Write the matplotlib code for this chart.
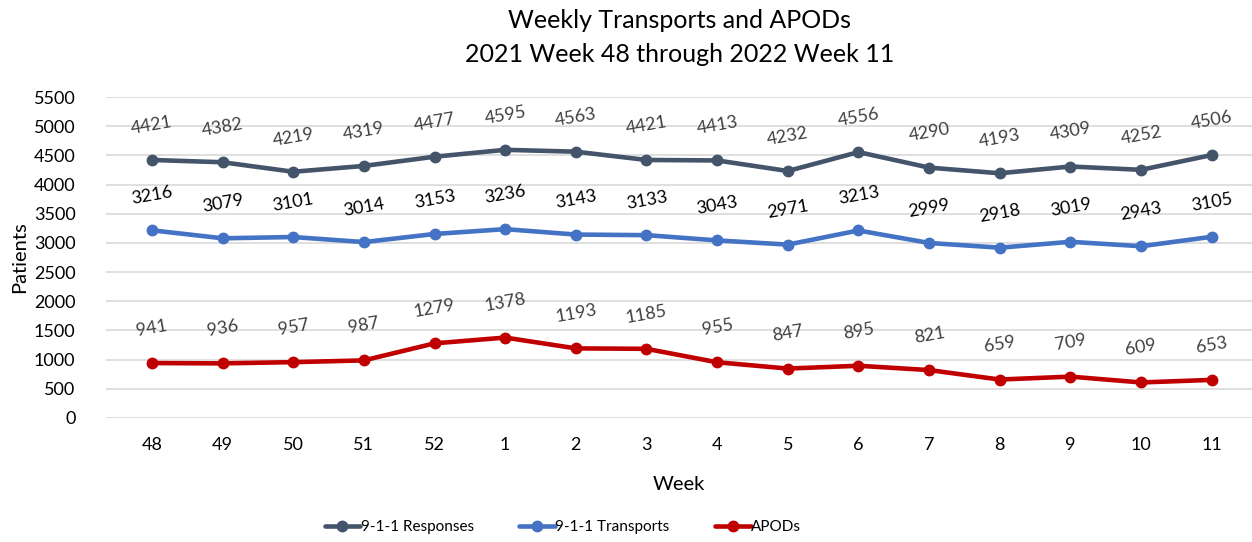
import numpy as np
import matplotlib.pyplot as plt

plt.rcParams['font.family'] = ['Lato', 'DejaVu Sans']

weeks = ["48", "49", "50", "51", "52", "1", "2", "3", "4", "5", "6", "7", "8", "9", "10", "11"]
responses = [4421, 4382, 4219, 4319, 4477, 4595, 4563, 4421, 4413, 4232, 4556, 4290, 4193, 4309, 4252, 4506]
transports = [3216, 3079, 3101, 3014, 3153, 3236, 3143, 3133, 3043, 2971, 3213, 2999, 2918, 3019, 2943, 3105]
apods = [941, 936, 957, 987, 1279, 1378, 1193, 1185, 955, 847, 895, 821, 659, 709, 609, 653]

series = [
    ("9-1-1 Responses", responses, "#44546A", "#404040"),
    ("9-1-1 Transports", transports, "#4472C4", "black"),
    ("APODs", apods, "#C00000", "#404040"),
]

fig = plt.figure(figsize=(12.52, 5.42), dpi=100)
ax = fig.add_axes([106 / 1252, 1 - 418 / 542, 1 - 106 / 1252, (418 - 97) / 542])

x = np.arange(len(weeks))
for name, vals, color, lab_color in series:
    ax.plot(x, vals, color=color, lw=3.3, marker="o", ms=7.5, label=name,
            solid_capstyle="round", zorder=3)
    for xi, v in zip(x, vals):
        ax.annotate(str(v), (xi, v), xytext=(0, 25), textcoords="offset points",
                    ha="center", va="center", rotation=10, fontsize=13,
                    color=lab_color)

ax.set_ylim(0, 5500)
ax.set_yticks(np.arange(0, 5501, 500))
ax.set_xlim(-0.65, len(weeks) - 1 + 0.57)
ax.set_xticks(x)
ax.set_xticklabels(weeks)
ax.grid(axis="y", color="#d9d9d9", lw=1.2)
ax.set_axisbelow(True)
for s in ax.spines.values():
    s.set_visible(False)
ax.tick_params(length=0, labelsize=13)
ax.tick_params(axis="y", pad=22)
ax.tick_params(axis="x", pad=14)

ax.set_ylabel("Patients", fontsize=14.5, labelpad=4)
ax.set_xlabel("Week", fontsize=14.5, labelpad=16)

fig.text(680 / 1252, 1 - 20 / 542, "Weekly Transports and APODs",
         fontsize=18, ha="center", va="center")
fig.text(680 / 1252, 1 - 55 / 542, "2021 Week 48 through 2022 Week 11",
         fontsize=18, ha="center", va="center")

fig.legend(loc="center", bbox_to_anchor=(563 / 1252, 1 - 527 / 542), ncol=3, frameon=False,
           fontsize=11, handlelength=2.3, columnspacing=3.0, handletextpad=0.05)

fig.savefig("out.png", dpi=100)
